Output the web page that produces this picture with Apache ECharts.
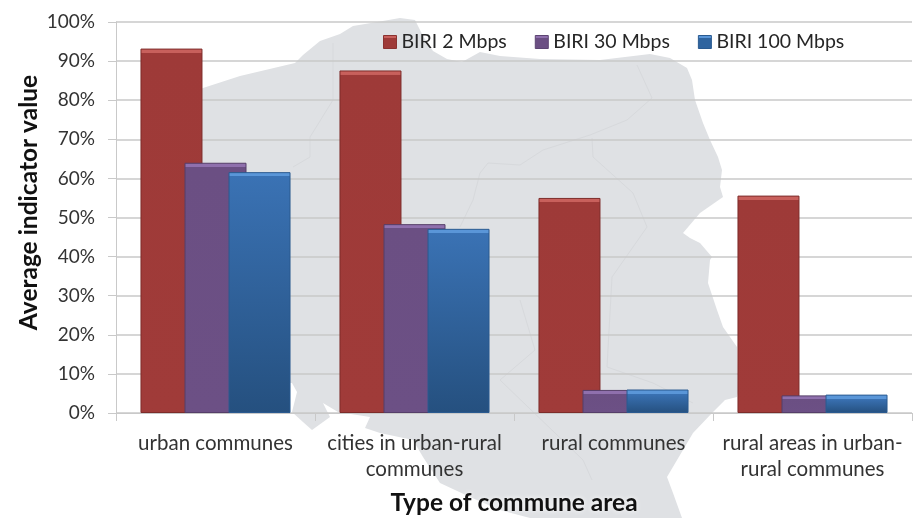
<!DOCTYPE html>
<html>
<head>
<meta charset="utf-8">
<title>BIRI by type of commune area</title>
<style>
  html, body { margin: 0; padding: 0; background: #fff; }
  #chart { width: 919px; height: 518px; }
</style>
<script src="https://cdn.jsdelivr.net/npm/echarts@6/dist/echarts.min.js"></script>
</head>
<body>
<div id="chart"></div>
<script>
// Average indicator value per commune type, in percent
const categories = [
  'urban communes',
  'cities in urban-rural\ncommunes',
  'rural communes',
  'rural areas in urban-\nrural communes'
];
const biri2 = [93.2, 87.6, 55.0, 55.6];
const biri30 = [64.0, 48.3, 5.9, 4.5];
const biri100 = [61.6, 47.1, 6.0, 4.7];

const axisColor = '#c9c9c9';
const fontFamily = 'Lato, "Open Sans", sans-serif';
const gridTop = 22;
const gridHeight = 391;
const bevel = 4;

// Country silhouette drawn behind the plot as a decorative backdrop
const outline = [
  [203,88],[240,76],[295,63],[303,55],[320,41],[340,34],[353,26],[377,22],[400,18],[415,20],
  [423,36],[433,51],[447,59],[462,62],[480,52],[500,56],[540,59],[600,60],[650,54],[670,58],
  [687,68],[692,80],[695,100],[703,123],[710,140],[718,157],[722,170],[720,187],[723,197],
  [700,213],[683,233],[690,238],[700,243],[712,257],[710,260],[708,283],[717,310],[723,327],
  [737,347],[738,393],[737,397],[725,400],[712,413],[693,433],[667,477],[673,493],[682,518],
  [530,518],[500,510],[470,497],[440,483],[423,457],[413,440],[380,433],[365,428],[370,417],
  [338,412],[323,403],[330,417],[312,430],[303,422],[292,412],[297,392],[292,383],[170,380],[170,100]
];
const borders = [
  [[333,43],[333,100],[310,137],[310,157],[293,167]],
  [[637,65],[652,98],[627,120],[590,135],[543,150],[520,165],[488,163],[480,173],[473,200],[460,227]],
  [[592,138],[593,157],[633,193],[647,227],[612,277],[607,367],[653,383],[693,403]],
  [[520,300],[535,350],[500,380],[583,460],[592,480]]
];

// Vertical fill with a thin lighter bevel along the top of each bar
function barFill(value, bevelColor, topColor, bottomColor) {
  const edge = Math.min(0.5, bevel / (value / 100 * gridHeight));
  return new echarts.graphic.LinearGradient(0, 0, 0, 1, [
    { offset: 0, color: bevelColor },
    { offset: edge, color: bevelColor },
    { offset: edge + 0.001, color: topColor },
    { offset: 1, color: bottomColor }
  ]);
}

function barSeries(name, values, bevelColor, topColor, bottomColor, borderColor) {
  return {
    name: name,
    type: 'bar',
    barWidth: 62,
    barGap: '-29%',
    data: values.map(v => ({
      value: v,
      itemStyle: { color: barFill(v, bevelColor, topColor, bottomColor) }
    })),
    itemStyle: { borderColor: borderColor, borderWidth: 1 }
  };
}

function legendEntry(name, bevelColor, bodyColor, borderColor) {
  return {
    name: name,
    icon: 'rect',
    itemStyle: {
      color: new echarts.graphic.LinearGradient(0, 0, 0, 1, [
        { offset: 0, color: bevelColor },
        { offset: 0.2, color: bevelColor },
        { offset: 0.21, color: bodyColor },
        { offset: 1, color: bodyColor }
      ]),
      borderColor: borderColor,
      borderWidth: 1
    }
  };
}

const chart = echarts.init(document.getElementById('chart'), null, { renderer: 'canvas' });
chart.setOption({
  animation: false,
  backgroundColor: '#ffffff',
  textStyle: { fontFamily: fontFamily },
  graphic: {
    z: -1,
    elements: [
      {
        type: 'polygon',
        silent: true,
        z: -1,
        shape: { points: outline },
        style: { fill: '#dfe1e4' }
      }
    ].concat(borders.map(points => ({
      type: 'polyline',
      silent: true,
      z: -1,
      shape: { points: points },
      style: { fill: null, stroke: '#d7d9dc', lineWidth: 1 }
    })))
  },
  legend: {
    left: 383,
    top: 32,
    padding: 0,
    itemWidth: 13,
    itemHeight: 13,
    itemGap: 28,
    textStyle: { fontSize: 19.5, color: '#262626', fontFamily: fontFamily },
    data: [
      legendEntry('BIRI 2 Mbps', '#c8605c', '#9e3a38', '#8a3230'),
      legendEntry('BIRI 30 Mbps', '#8f70ad', '#6b4f83', '#5d4573'),
      legendEntry('BIRI 100 Mbps', '#5a96d8', '#2f649f', '#2a5a90')
    ]
  },
  grid: { left: 116, right: 7, top: gridTop, height: gridHeight, outerBoundsMode: 'none' },
  xAxis: {
    type: 'category',
    data: categories,
    name: 'Type of commune area',
    nameLocation: 'middle',
    nameGap: 78,
    nameMoveOverlap: false,
    nameTextStyle: {
      fontSize: 24.5,
      fontWeight: 'bold',
      color: '#111',
      fontFamily: fontFamily,
      textShadowColor: '#fff',
      textShadowBlur: 5
    },
    axisLine: { lineStyle: { color: axisColor, width: 1 } },
    axisTick: { show: true, length: 8, lineStyle: { color: axisColor } },
    axisLabel: {
      fontSize: 20.5,
      color: '#333',
      margin: 17,
      lineHeight: 26,
      interval: 0,
      fontFamily: fontFamily
    },
    splitLine: { show: false }
  },
  yAxis: {
    type: 'value',
    min: 0,
    max: 100,
    interval: 10,
    name: 'Average indicator value',
    nameLocation: 'middle',
    nameGap: 74,
    nameMoveOverlap: false,
    nameTextStyle: {
      fontSize: 24.5,
      fontWeight: 'bold',
      color: '#111',
      fontFamily: fontFamily,
      padding: [0, 0, 0, 30]
    },
    axisLine: { show: true, lineStyle: { color: axisColor, width: 1 } },
    axisTick: { show: true, length: 8, lineStyle: { color: axisColor } },
    axisLabel: { formatter: '{value}%', fontSize: 19, color: '#333', margin: 21, fontFamily: fontFamily },
    splitLine: { show: true, lineStyle: { color: axisColor, width: 1.5 } }
  },
  series: [
    barSeries('BIRI 2 Mbps', biri2, '#c8605c', '#9e3a38', '#a03b39', '#7d2c2a'),
    barSeries('BIRI 30 Mbps', biri30, '#8f70ad', '#6b4f83', '#6c5085', '#553e69'),
    barSeries('BIRI 100 Mbps', biri100, '#5a96d8', '#3a72b4', '#25507f', '#2a5a90')
  ]
});
</script>
</body>
</html>
